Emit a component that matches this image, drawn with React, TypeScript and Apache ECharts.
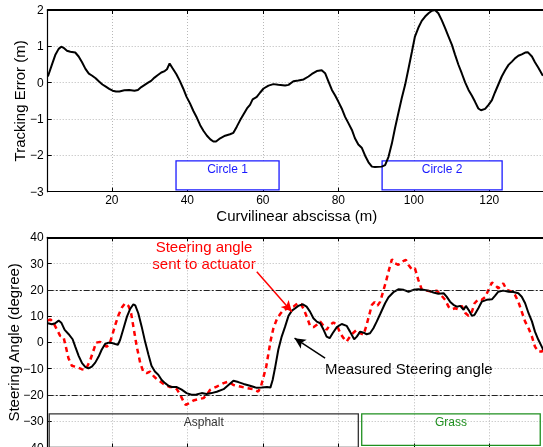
import React, { useEffect, useRef } from "react";
import * as echarts from "echarts";

// ---- Top panel: tracking error (m) vs curvilinear abscissa (m)
const topX = [3.05, 4.1, 5.0, 5.9, 6.6, 7.2, 8.1, 9.0, 10.3, 11.2, 12.1, 13.0, 13.9, 14.8, 15.7, 16.6, 17.5, 18.4, 19.3, 20.2, 21.1, 22.0, 23.3, 24.6, 26.0, 26.9, 27.8, 28.7, 29.6, 30.4, 31.3, 32.2, 33.1, 34.0, 34.6, 35.3, 36.0, 37.1, 38.0, 38.9, 39.8, 40.7, 41.6, 42.5, 43.4, 44.3, 45.2, 46.1, 46.9, 47.6, 48.7, 50.0, 51.3, 52.2, 53.1, 54.0, 54.9, 55.8, 56.6, 57.3, 58.4, 59.3, 60.2, 61.5, 62.8, 64.1, 65.9, 66.8, 68.1, 69.4, 70.8, 72.1, 73.0, 74.3, 75.6, 76.5, 77.4, 78.3, 79.2, 80.0, 80.9, 81.8, 82.7, 83.6, 84.4, 85.3, 86.2, 87.1, 88.0, 88.9, 89.7, 91.5, 92.4, 93.3, 94.2, 95.0, 95.9, 96.8, 97.7, 98.6, 99.5, 100.3, 101.2, 102.1, 103.0, 103.9, 104.8, 105.6, 106.5, 107.4, 108.3, 109.2, 110.1, 110.9, 111.8, 112.7, 113.6, 114.5, 115.4, 116.2, 117.1, 117.8, 118.9, 119.8, 120.7, 121.5, 122.4, 123.3, 124.2, 125.1, 126.0, 126.8, 127.7, 128.6, 129.5, 130.2, 131.3, 132.1, 133.0, 134.2];
const topY = [0.17, 0.49, 0.76, 0.93, 0.99, 0.96, 0.88, 0.85, 0.83, 0.72, 0.56, 0.38, 0.25, 0.19, 0.12, 0.03, -0.05, -0.11, -0.17, -0.22, -0.24, -0.24, -0.21, -0.2, -0.22, -0.2, -0.12, -0.06, 0.0, 0.05, 0.14, 0.21, 0.28, 0.32, 0.37, 0.53, 0.41, 0.23, 0.05, -0.16, -0.39, -0.57, -0.78, -0.96, -1.17, -1.33, -1.46, -1.56, -1.62, -1.62, -1.53, -1.46, -1.42, -1.38, -1.21, -1.03, -0.87, -0.71, -0.61, -0.46, -0.39, -0.27, -0.16, -0.08, -0.04, -0.06, -0.08, -0.06, 0.04, 0.06, 0.09, 0.17, 0.24, 0.32, 0.34, 0.26, 0.03, -0.2, -0.36, -0.52, -0.71, -0.94, -1.12, -1.3, -1.53, -1.7, -1.79, -2.01, -2.19, -2.31, -2.32, -2.31, -2.27, -2.04, -1.67, -1.26, -0.84, -0.43, -0.06, 0.39, 0.85, 1.27, 1.51, 1.7, 1.82, 1.91, 1.98, 2.0, 1.91, 1.72, 1.5, 1.27, 1.04, 0.78, 0.5, 0.26, 0.01, -0.2, -0.36, -0.52, -0.71, -0.76, -0.72, -0.61, -0.48, -0.27, -0.05, 0.17, 0.34, 0.49, 0.58, 0.67, 0.74, 0.78, 0.83, 0.84, 0.72, 0.56, 0.41, 0.19];

// ---- Bottom panel: measured steering angle (degree)
const measX = [3.05, 4.1, 5.0, 5.9, 6.6, 7.5, 8.5, 9.6, 10.3, 11.2, 12.1, 13.0, 13.8, 14.7, 15.6, 16.5, 17.3, 18.2, 19.1, 20.0, 20.9, 21.6, 22.2, 23.1, 24.0, 24.8, 25.7, 26.2, 27.0, 27.9, 28.8, 29.7, 30.5, 31.4, 32.3, 33.2, 34.1, 35.0, 35.9, 37.2, 38.5, 39.8, 41.1, 42.4, 43.8, 45.1, 46.4, 47.8, 49.6, 50.9, 52.2, 53.5, 54.9, 56.6, 58.4, 59.7, 61.1, 62.0, 62.6, 63.3, 64.1, 65.0, 65.9, 66.8, 67.7, 68.6, 69.4, 70.6, 71.6, 72.5, 73.4, 74.3, 75.2, 76.1, 76.9, 77.7, 78.5, 79.6, 80.9, 82.2, 83.1, 84.2, 84.9, 85.8, 86.7, 87.5, 88.4, 89.3, 90.2, 91.1, 92.4, 93.3, 94.6, 95.9, 97.3, 98.6, 99.9, 101.2, 102.5, 103.9, 105.2, 106.5, 107.9, 108.7, 109.6, 110.5, 111.4, 112.3, 113.2, 113.8, 114.5, 115.4, 116.1, 117.1, 118.0, 119.3, 120.7, 121.5, 122.4, 123.7, 125.1, 126.4, 127.7, 128.6, 129.5, 130.4, 131.3, 132.1, 133.0, 133.9, 134.3];
const measY = [7.3, 6.9, 7.3, 8.3, 7.5, 4.75, 3.2, 1.2, -1.6, -5.1, -7.9, -9.4, -9.9, -9.2, -7.7, -5.4, -2.8, -0.6, -0.1, -0.2, -0.6, -0.9, 1.0, 5.4, 9.8, 12.6, 14.5, 14.1, 11.1, 6.0, 0.3, -4.7, -8.9, -11.1, -12.3, -14.3, -15.5, -16.5, -17.0, -17.0, -18.0, -19.3, -19.9, -19.8, -19.3, -19.6, -19.3, -18.8, -17.8, -16.2, -14.6, -15.1, -15.8, -16.5, -17.3, -17.2, -17.0, -17.2, -14.3, -9.2, -2.8, 2.2, 6.0, 10.1, 12.1, 13.0, 13.9, 14.5, 13.6, 11.7, 9.2, 7.9, 7.3, 4.8, 2.2, 1.6, 3.5, 5.8, 7.0, 6.3, 4.1, 1.2, 2.2, 4.1, 3.7, 3.1, 3.5, 5.4, 8.0, 10.8, 14.9, 17.2, 19.1, 20.2, 20.0, 19.3, 20.0, 20.2, 20.0, 19.7, 19.0, 18.5, 18.7, 17.4, 15.5, 14.3, 13.6, 13.9, 12.4, 13.9, 12.4, 10.1, 10.5, 13.0, 15.5, 16.2, 16.4, 17.7, 19.3, 19.7, 19.3, 19.2, 18.7, 17.4, 14.9, 11.1, 8.0, 4.1, 1.0, -1.6, -2.8];

// ---- Bottom panel: steering angle sent to actuator (degree)
const sentX = [3.05, 3.7, 4.5, 5.4, 6.3, 7.2, 7.8, 8.5, 9.4, 10.7, 12.0, 12.8, 13.4, 14.3, 15.2, 15.8, 16.9, 17.8, 18.6, 19.3, 20.0, 20.9, 21.8, 22.7, 23.5, 24.4, 25.1, 25.7, 26.6, 27.5, 28.3, 29.2, 30.1, 31.0, 31.9, 32.8, 33.7, 34.6, 35.4, 36.3, 37.2, 38.1, 39.0, 39.6, 40.5, 41.6, 42.9, 44.3, 45.2, 46.0, 47.8, 49.6, 50.9, 52.2, 54.0, 55.8, 57.5, 58.8, 59.5, 60.2, 60.9, 61.5, 62.1, 62.8, 63.7, 64.6, 65.5, 66.8, 68.1, 69.2, 70.1, 70.9, 71.8, 72.5, 73.4, 74.3, 75.2, 76.1, 76.9, 77.8, 78.7, 79.6, 80.5, 81.4, 82.2, 83.1, 84.0, 84.9, 85.8, 86.7, 87.5, 88.2, 88.9, 89.6, 90.4, 91.1, 91.8, 92.6, 93.4, 94.2, 95.0, 95.9, 96.8, 97.9, 98.6, 99.5, 100.3, 101.2, 102.1, 103.4, 104.8, 106.1, 107.4, 108.3, 109.2, 110.1, 110.9, 111.8, 112.7, 113.6, 114.5, 115.4, 116.1, 117.1, 118.0, 118.9, 119.8, 120.7, 121.5, 122.4, 123.7, 124.6, 126.0, 126.8, 127.7, 128.6, 129.5, 130.4, 131.3, 132.1, 133.0, 133.9, 134.3];
const sentY = [8.3, 8.8, 7.5, 5.0, 2.5, 2.0, -1.6, -6.0, -8.9, -9.4, -10.2, -10.4, -9.4, -6.6, -2.8, -0.1, 0.2, -0.9, -1.6, -0.9, 2.2, 6.7, 10.5, 13.4, 14.9, 13.9, 11.1, 6.0, -1.6, -7.7, -11.1, -11.7, -11.1, -12.7, -14.0, -14.9, -15.8, -16.5, -17.0, -17.0, -17.8, -19.9, -22.5, -23.8, -23.1, -22.1, -21.6, -21.2, -19.8, -18.1, -16.8, -15.5, -14.9, -16.2, -16.8, -17.4, -17.8, -18.7, -16.8, -13.0, -9.2, -4.1, 0.9, 5.4, 8.8, 10.8, 12.4, 13.0, 13.6, 14.9, 14.6, 12.4, 9.2, 6.3, 5.8, 6.7, 7.9, 6.3, 4.8, 6.7, 7.6, 6.7, 3.5, 1.6, 0.3, 2.2, 3.7, 4.8, 3.5, 2.9, 6.7, 10.5, 14.3, 15.3, 14.0, 15.5, 19.0, 23.0, 27.5, 31.6, 30.1, 29.5, 30.7, 31.4, 29.5, 27.8, 28.2, 23.8, 20.2, 19.7, 19.3, 19.7, 17.7, 16.2, 13.6, 12.6, 13.0, 12.6, 13.9, 11.3, 10.1, 11.7, 14.9, 16.4, 16.2, 17.2, 20.0, 22.8, 21.9, 20.6, 22.5, 20.0, 19.3, 18.1, 15.5, 11.7, 7.9, 5.4, 2.2, -1.6, -3.5, -3.5, -2.8];

// ---- Annotated regions and limits
const circleNames = ["Circle 1", "Circle 2"];
const circleXs = [[37.0, 64.3], [91.6, 123.4]];
const circleYs = [-2.15, -2.95];
const surfaceNames = ["Asphalt", "Grass"];
const surfaceXs = [[3.4, 85.3], [86.2, 133.5]];
const surfaceYs = [[-27.2, -40], [-27.2, -39.2]];
const limits = [20, -20];
const sentArrow = [[58.4, 26.9], [67.7, 11.7]];
const measArrow = [[76.5, -6.0], [68.4, 1.6]];

const zip = (xs: number[], ys: number[]) => xs.map((x, i) => [x, ys[i]]);
const FONT = "'Liberation Sans', Arial, Helvetica, sans-serif";
const minus = (v: number) => String(v).replace("-", "\u2212");

export default function App() {
  const ref = useRef<HTMLDivElement>(null);
  useEffect(() => {
    const chart = echarts.init(ref.current!, null, { renderer: "svg" });
    const GL = 47.7;
    const GW = 498.2;
    const grid = [
      { left: GL, top: 10, width: GW, height: 181.7, show: false, containLabel: false, outerBoundsMode: "none" },
      { left: GL, top: 237.3, width: GW, height: 210.2, show: false, containLabel: false, outerBoundsMode: "none" },
    ];
    const splitLine = { show: true, lineStyle: { color: "#b8b8b8", type: [1, 2], width: 1 } };
    const axisLine = { show: true, onZero: false, lineStyle: { color: "#000", width: 1.2 } };
    const axisTick = { show: true, inside: true, length: 4, lineStyle: { color: "#000" } };
    const labelStyle = { color: "#000", fontSize: 12, fontFamily: FONT };
    const nameStyle = { color: "#000", fontSize: 15, fontFamily: FONT };
    const xMain = (gi: number, name: string, showLabels: boolean) => ({
      type: "value",
      gridIndex: gi,
      min: 3,
      max: 135,
      splitNumber: 7,
      position: "bottom",
      name,
      nameLocation: "middle",
      nameGap: 16.5,
      nameMoveOverlap: false,
      nameTextStyle: nameStyle,
      axisLine,
      axisTick,
      axisLabel: { ...labelStyle, show: showLabels, margin: 2, formatter: (v: number) => (v % 20 === 0 ? minus(v) : "") },
      splitLine,
    });
    const xTop = (gi: number) => ({
      type: "value",
      gridIndex: gi,
      min: 3,
      max: 135,
      splitNumber: 7,
      position: "top",
      axisLine: { ...axisLine, lineStyle: { color: "#000", width: 2 } },
      axisTick,
      axisLabel: { show: false },
      splitLine: { show: false },
    });
    const option: any = {
      animation: false,
      grid,
      xAxis: [xMain(0, "Curvilinear abscissa (m)", true), xTop(0), xMain(1, "", false), xTop(1)],
      yAxis: [
        {
          type: "value",
          gridIndex: 0,
          min: -3,
          max: 2,
          interval: 1,
          name: "Tracking Error (m)",
          nameLocation: "middle",
          nameGap: 21,
          nameMoveOverlap: false,
          nameTextStyle: nameStyle,
          axisLine,
          axisTick,
          axisLabel: { ...labelStyle, margin: 4, formatter: (v: number) => minus(v) },
          splitLine,
        },
        {
          type: "value",
          gridIndex: 1,
          min: -40,
          max: 40,
          interval: 10,
          name: "Steering Angle (degree)",
          nameLocation: "middle",
          nameGap: 27,
          nameMoveOverlap: false,
          nameTextStyle: nameStyle,
          axisLine,
          axisTick,
          axisLabel: { ...labelStyle, margin: 4, formatter: (v: number) => minus(v) },
          splitLine,
        },
      ],
      series: [
        {
          type: "line",
          name: "Tracking error",
          xAxisIndex: 0,
          yAxisIndex: 0,
          data: zip(topX, topY),
          showSymbol: false,
          symbol: "none",
          lineStyle: { color: "#000", width: 2 },
          markArea: {
            silent: true,
            itemStyle: { color: "#fff", borderColor: "#1a1aff", borderWidth: 1.3 },
            label: { show: true, position: "insideTop", distance: 3, color: "#1a1aff", fontSize: 12, fontFamily: FONT },
            data: circleNames.map((n, i) => [
              { name: n, xAxis: circleXs[i][0], yAxis: circleYs[0] },
              { xAxis: circleXs[i][1], yAxis: circleYs[1] },
            ]),
          },
        },
        {
          type: "line",
          name: "Steering angle sent to actuator",
          xAxisIndex: 2,
          yAxisIndex: 1,
          data: zip(sentX, sentY),
          showSymbol: false,
          symbol: "none",
          lineStyle: { color: "#ff0000", width: 2.5, type: [5, 4] },
          markArea: {
            silent: true,
            data: surfaceNames.map((n, i) => {
              const c = i === 0 ? "#333333" : "#1f8f1f";
              return [
                {
                  name: n,
                  xAxis: surfaceXs[i][0],
                  yAxis: surfaceYs[i][0],
                  itemStyle: { color: "rgba(0,0,0,0)", borderColor: c, borderWidth: 1.3 },
                  label: { show: true, position: "insideTop", distance: 3, color: c, fontSize: 12, fontFamily: FONT },
                },
                { xAxis: surfaceXs[i][1], yAxis: surfaceYs[i][1] },
              ];
            }),
          },
          markLine: {
            silent: true,
            symbol: ["none", "none"],
            label: { show: false },
            data: [
              [
                { coord: sentArrow[0], symbol: "none", lineStyle: { color: "#ff0000", width: 1.5, type: "solid" } },
                { coord: sentArrow[1], symbol: "arrow", symbolSize: [8, 11] },
              ],
            ],
          },
        },
        {
          type: "line",
          name: "Measured Steering angle",
          xAxisIndex: 2,
          yAxisIndex: 1,
          data: zip(measX, measY),
          showSymbol: false,
          symbol: "none",
          lineStyle: { color: "#000", width: 2 },
          markLine: {
            silent: true,
            symbol: ["none", "none"],
            label: { show: false },
            data: [
              ...limits.map((v) => ({ yAxis: v, lineStyle: { color: "#222", width: 1, type: [6, 2, 2, 2] } })),
              [
                { coord: measArrow[0], symbol: "none", lineStyle: { color: "#000", width: 1.5, type: "solid" } },
                { coord: measArrow[1], symbol: "arrow", symbolSize: [8, 11] },
              ],
            ],
          },
        },
      ],
      graphic: [
        {
          type: "text",
          x: 204,
          y: 254.5,
          style: {
            text: "Steering angle\nsent to actuator",
            fill: "#ff0000",
            font: `15px ${FONT}`,
            align: "center",
            verticalAlign: "middle",
            lineHeight: 17,
          },
        },
        {
          type: "text",
          x: 325,
          y: 368,
          style: {
            text: "Measured Steering angle",
            fill: "#000",
            font: `15px ${FONT}`,
            align: "left",
            verticalAlign: "middle",
          },
        },
      ],
    };
    chart.setOption(option);
    return () => chart.dispose();
  }, []);
  return <div ref={ref} style={{ position: "fixed", left: 0, top: 0, width: 543, height: 447 }} />;
}
